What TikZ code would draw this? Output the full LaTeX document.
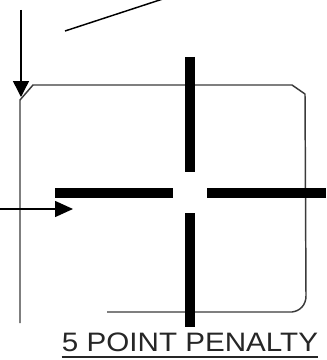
\documentclass[tikz,border=0pt]{standalone}
\usepackage{fontspec}
\setmainfont{Liberation Sans}
\usetikzlibrary{arrows.meta,calc}
\definecolor{frameGray}{HTML}{3A3A3A}
\definecolor{textGray}{HTML}{262626}

\begin{document}
\begin{tikzpicture}[
  x=0.75pt, y=-0.75pt,
  >={Triangle[length=12pt,width=12pt]},
  every node/.style={font=\fontsize{20}{24}\selectfont, text=textGray}
]
  \clip (0,0) rectangle (326,360);

  \coordinate (C) at (190,193);

  % Frame (chamfered corners, open at lower left)
  \draw[frameGray, line width=1.1pt, line join=round]
    (20,323) -- (20,100) -- (33,85) -- (292,85) -- (305,94) -- (306,296)
    .. controls (306,305) and (300,311) .. (292,312) -- (107,312);

  % Thick cross, open at the centre
  \draw[black, line width=7.5pt] (C |- 0,57) -- (C |- 0,172);
  \draw[black, line width=7.5pt] (C |- 0,213) -- (C |- 0,327);
  \draw[black, line width=7.5pt] (55,193) -- (173,193);
  \draw[black, line width=7.5pt] (207,193) -- (326,193);

  % Arrows
  \draw[->, black, line width=1.1pt] (21,10) -- (21,97);
  \draw[-{Triangle[length=13.5pt,width=12pt]}, black, line width=1.1pt] (0,209) -- (73,209);
  \draw[black, line width=1.1pt] (65,31) -- (175,-5);

  % Caption
  \node[inner sep=0pt, anchor=base] (penalty) at (190,351)
    {\scalebox{1.11}[1]{5 POINT PENALTY}};
  \draw[textGray, line width=1.1pt]
    ($(penalty.base west)+(0,6)$) -- ($(penalty.base east)+(0,6)$);
\end{tikzpicture}
\end{document}
